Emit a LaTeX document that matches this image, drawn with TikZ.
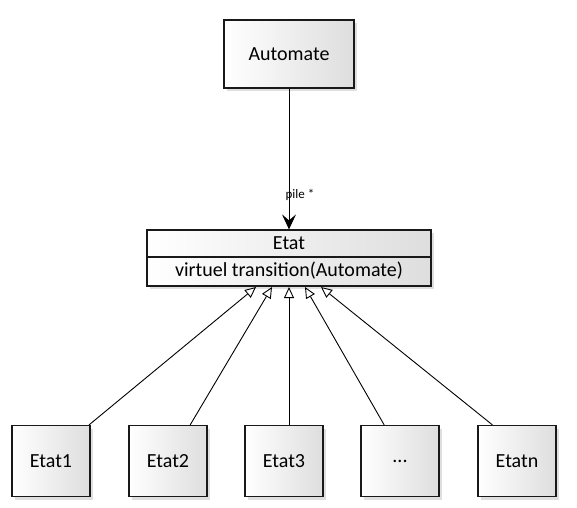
\documentclass[tikz,border=0pt]{standalone}
\usepackage{fontspec}
\setmainfont{Carlito}
\usetikzlibrary{arrows.meta,shadows,calc}
\begin{document}
\begin{tikzpicture}[x=1pt,y=-1pt,
  box/.style={draw=black!90,line width=1.2pt,left color=white,right color=black!13,
    drop shadow={opacity=0.25,shadow xshift=3pt,shadow yshift=-3pt},
    inner sep=0pt,font=\fontsize{20}{23}\selectfont},
  child/.style={box,minimum width=78pt,minimum height=71pt},
  lbl/.style={font=\fontsize{20}{23}\selectfont,inner sep=0pt},
  inh/.style={line width=0.9pt,-{Triangle[open,length=11pt,width=10pt,fill=white]}},
  assoc/.style={line width=1pt,-{Stealth[length=15pt,width=14pt,inset=6pt,line width=0.8pt]}}]
\useasboundingbox (0,0) rectangle (577,507);
% top class
\node[box,minimum width=130pt,minimum height=68pt] (auto) at (289,54) {Automate};
% Etat class
\node[box,minimum width=284pt,minimum height=56pt] (etat) at (289,258) {};
\node[lbl] (etatname) at (289,243) {Etat};
\node[lbl] (meth) at (289,271) {virtuel transition(Automate)};
\draw[black!90,line width=1.2pt] ($(etat.west)+(0,-1)$) -- ($(etat.east)+(0,-1)$);
% association
\draw[assoc] (auto) -- (etat);
\node[font=\fontsize{13}{15}\selectfont,inner sep=0pt] (pile) at (300,195) {pile *};
% children
\node[child] (e1) at (51,461) {Etat1};
\node[child] (e2) at (168,461) {Etat2};
\node[child] (e3) at (284,461) {Etat3};
\node[child] (e4) at (400,461) {...};
\node[child] (e5) at (517,461) {Etatn};
% inheritance tips
\coordinate (t1) at (256,287);
\coordinate (t2) at (272,287);
\coordinate (t3) at (289,287);
\coordinate (t4) at (305,287);
\coordinate (t5) at (321,287);
\draw[inh] ($(e1.north west)!0.98!(e1.north east)$) -- (t1);
\draw[inh] ($(e2.north west)!0.78!(e2.north east)$) -- (t2);
\draw[inh] (e3.north -| t3) -- (t3);
\draw[inh] ($(e4.north west)!0.3!(e4.north east)$) -- (t4);
\draw[inh] ($(e5.north west)!0.19!(e5.north east)$) -- (t5);
\end{tikzpicture}
\end{document}
